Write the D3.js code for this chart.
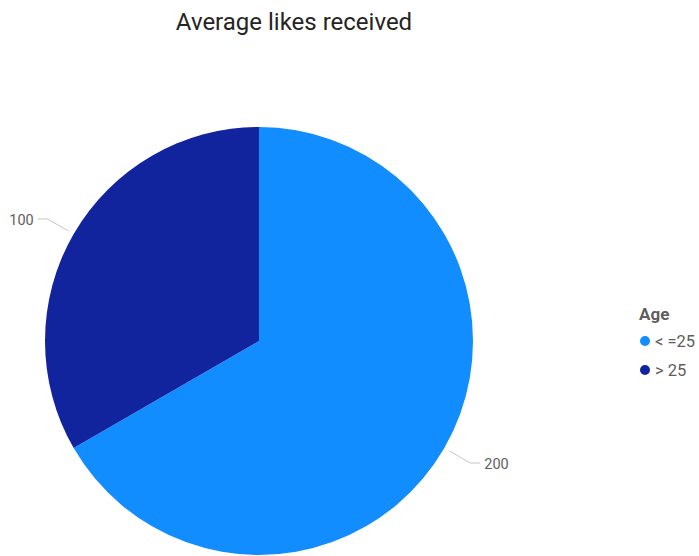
<!DOCTYPE html>
<html>
<head>
<meta charset="utf-8">
<script src="https://cdn.jsdelivr.net/npm/d3@7"></script>
<style>
  html, body { margin: 0; padding: 0; background: #fff; }
  svg { display: block; font-family: "Segoe UI", Roboto, "Noto Sans", sans-serif; }
</style>
</head>
<body>
<svg id="chart" width="699" height="556"></svg>
<script>
// Average likes by age group
const categories = ["<=25", ">25"];
const values = [200, 100];
const labelTexts = ["200", "100"];
const colors = ["#118DFF", "#12239E"];
const titleText = "Average likes received";
const legendTitle = "Age";
const legendLabels = ["< =25", "> 25"];

const svg = d3.select("#chart");
const cx = 259, cy = 341, R = 214;

svg.append("text")
  .attr("x", 294).attr("y", 30)
  .attr("text-anchor", "middle")
  .attr("font-size", 24)
  .attr("fill", "#252423")
  .text(titleText);

const data = categories.map((c, i) => ({ cat: c, value: values[i], label: labelTexts[i], color: colors[i] }));

const pie = d3.pie().value(d => d.value).sort(null);
const arcs = pie(data);
const arc = d3.arc().innerRadius(0).outerRadius(R);

const g = svg.append("g").attr("transform", `translate(${cx},${cy})`);
g.selectAll("path.slice")
  .data(arcs)
  .join("path")
  .attr("class", "slice")
  .attr("d", arc)
  .attr("fill", d => d.data.color);

// Leader lines and value labels
arcs.forEach(a => {
  const mid = (a.startAngle + a.endAngle) / 2;
  const sx = Math.sin(mid), sy = -Math.cos(mid);
  const p0 = [sx * (R + 6), sy * (R + 6)];
  const p1 = [sx * (R + 30), sy * (R + 30)];
  const dir = sx >= 0 ? 1 : -1;
  const p2 = [p1[0] + dir * 10, p1[1]];
  g.append("polyline")
    .attr("points", [p0, p1, p2].map(p => p.join(",")).join(" "))
    .attr("fill", "none")
    .attr("stroke", "#c8c6c4")
    .attr("stroke-width", 1);
  g.append("text")
    .attr("x", p2[0] + dir * 4)
    .attr("y", p2[1] + 1)
    .attr("dy", "0.35em")
    .attr("text-anchor", dir > 0 ? "start" : "end")
    .attr("font-size", 14.5)
    .attr("fill", "#605e5c")
    .text(a.data.label);
});

// Legend
const lg = svg.append("g").attr("transform", "translate(639,0)");
lg.append("text")
  .attr("x", 0).attr("y", 320)
  .attr("font-size", 17)
  .attr("font-weight", "bold")
  .attr("fill", "#605e5c")
  .text(legendTitle);
data.forEach((d, i) => {
  const y = 341 + i * 29;
  lg.append("circle").attr("cx", 6).attr("cy", y).attr("r", 5).attr("fill", d.color);
  lg.append("text")
    .attr("x", 16).attr("y", y)
    .attr("dy", "0.35em")
    .attr("font-size", 16.5)
    .attr("fill", "#605e5c")
    .text(legendLabels[i]);
});
</script>
</body>
</html>
